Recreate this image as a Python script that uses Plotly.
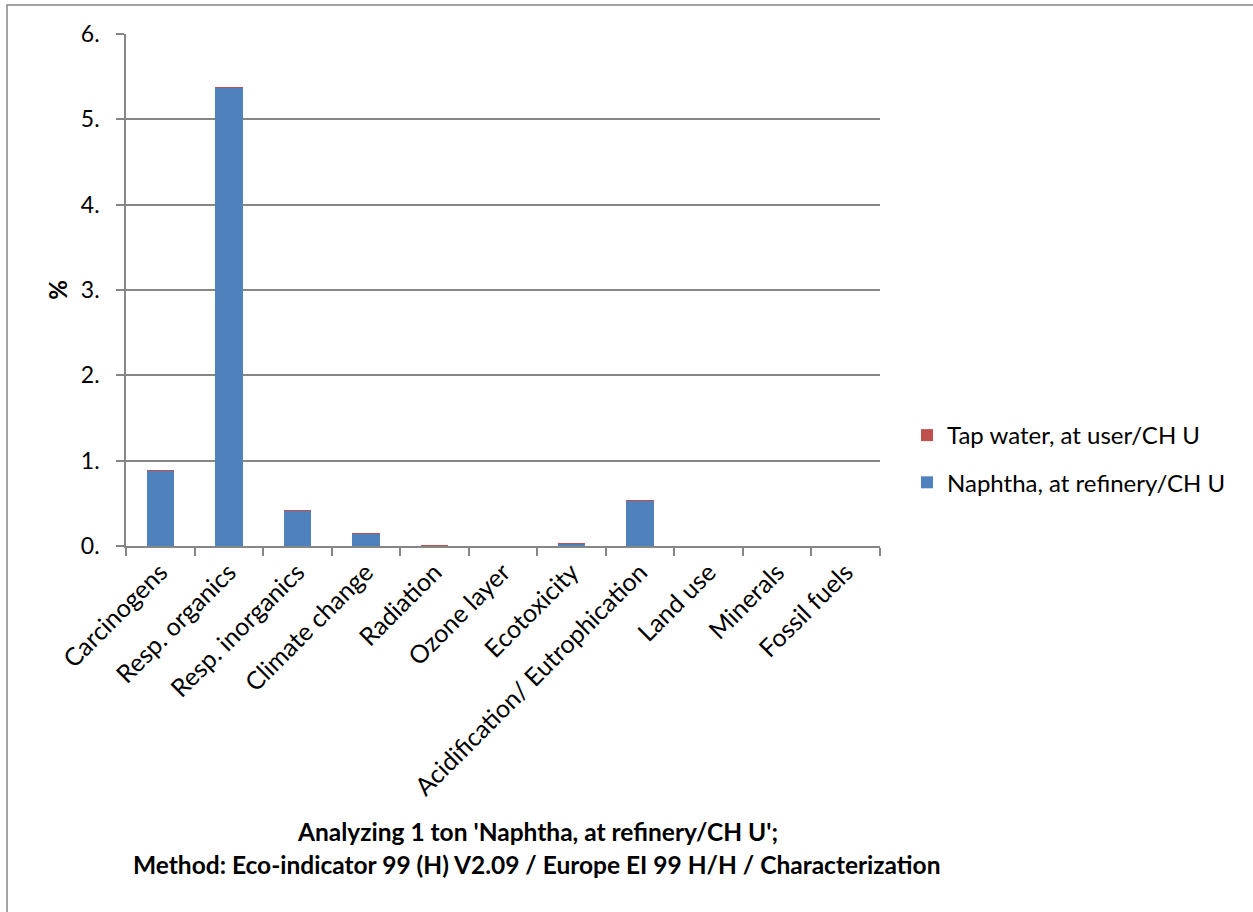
import plotly.graph_objects as go

categories = ["Carcinogens", "Resp. organics", "Resp. inorganics", "Climate change",
              "Radiation", "Ozone layer", "Ecotoxicity", "Acidification/ Eutrophication",
              "Land use", "Minerals", "Fossil fuels"]
naphtha = [0.88, 5.37, 0.42, 0.15, 0.004, 0.0, 0.03, 0.53, 0.0, 0.0, 0.0]
tap_water = [0.001, 0.001, 0.001, 0.001, 0.001, 0.0, 0.0005, 0.001, 0.0, 0.0, 0.0]
y_ticks = [0, 1, 2, 3, 4, 5, 6]
y_tick_labels = ["0.", "1.", "2.", "3.", "4.", "5.", "6."]

FONT = "Lato"
GRID = "#868686"

W, H = 1253, 912
L, R, T, B = 126, 373, 34, 366
pw, ph = W - L - R, H - T - B


def px_x(x):
    return (x - L) / pw


def px_y(y):
    return (H - B - y) / ph


fig = go.Figure()
fig.add_trace(go.Bar(x=categories, y=naphtha, name="Naphtha, at refinery/CH U",
                     marker=dict(color="#4F81BD", line=dict(width=0)),
                     legendgroup="n", legendrank=2))
fig.add_trace(go.Bar(x=categories, y=tap_water, name="Tap water, at user/CH U",
                     marker=dict(color="#C0504D", line=dict(width=0)),
                     legendgroup="t", legendrank=1))

fig.update_layout(
    width=W, height=H,
    margin=dict(l=L, r=R, t=T, b=B, pad=0),
    paper_bgcolor="white", plot_bgcolor="white",
    barmode="stack", bargap=0.6,
    font=dict(family=FONT, size=18, color="black"),
    showlegend=True,
    legend=dict(x=px_x(907), y=px_y(413), xanchor="left", yanchor="top",
                traceorder="grouped", tracegroupgap=13,
                font=dict(family=FONT, size=24), itemwidth=30,
                bgcolor="rgba(0,0,0,0)"),
    xaxis=dict(range=[-0.5, 10.5], tickangle=-45, ticks="outside", tickson="boundaries",
               ticklen=8, tickcolor=GRID, tickwidth=1.5, showline=True, linecolor=GRID,
               linewidth=1.5, showgrid=False, tickfont=dict(family=FONT, size=25)),
    yaxis=dict(range=[0, 6], tickvals=y_ticks, ticktext=y_tick_labels, ticks="outside",
               ticklen=8, tickcolor=GRID, tickwidth=1.5, showline=True, linecolor=GRID,
               linewidth=1.5, showgrid=True, gridcolor=GRID, gridwidth=1.5,
               zeroline=False, tickfont=dict(family=FONT, size=23), ticklabelstandoff=12,
               title=dict(text="<b>%</b>", font=dict(family=FONT, size=24), standoff=6)),
)

# chart frame
fig.add_shape(type="rect", xref="paper", yref="paper",
              x0=px_x(7), x1=px_x(1262), y0=px_y(5), y1=px_y(930),
              line=dict(color="#868686", width=1.5), fillcolor="rgba(0,0,0,0)", layer="below")

fig.add_annotation(text="<b>Analyzing 1 ton 'Naphtha, at refinery/CH U';</b>",
                   xref="paper", yref="paper", x=px_x(537), y=px_y(831),
                   xanchor="center", yanchor="middle", showarrow=False,
                   font=dict(family=FONT, size=24.5))
fig.add_annotation(text="<b>Method: Eco-indicator 99 (H) V2.09 / Europe EI 99 H/H / Characterization</b>",
                   xref="paper", yref="paper", x=px_x(537), y=px_y(864),
                   xanchor="center", yanchor="middle", showarrow=False,
                   font=dict(family=FONT, size=24.5))

fig.write_html("out.html")
